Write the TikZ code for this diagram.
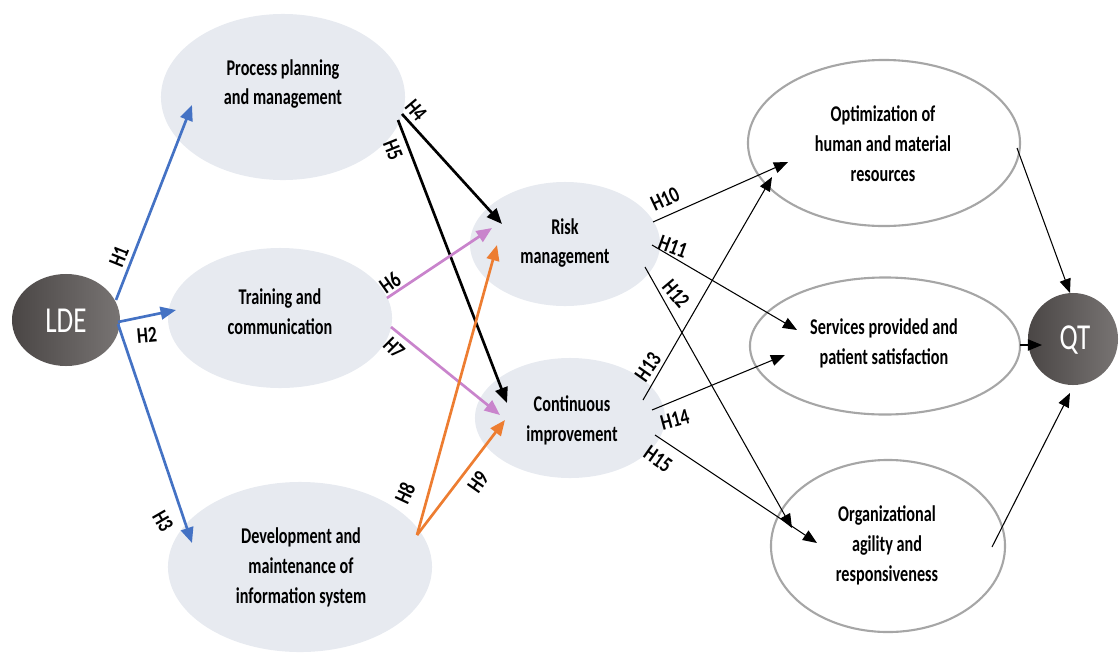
\documentclass[tikz,border=0pt]{standalone}
\usepackage{fontspec}
\setmainfont{Carlito}
\usetikzlibrary{arrows.meta,shapes.geometric,calc}
\definecolor{efill}{HTML}{E7EAF0}
\definecolor{eline}{HTML}{A6A6A6}
\definecolor{cblue}{HTML}{4472C4}
\definecolor{cpink}{HTML}{C984CC}
\definecolor{corange}{HTML}{ED7D31}
\definecolor{darka}{HTML}{4A4645}
\definecolor{darkb}{HTML}{787473}
\newcommand{\hsq}[1]{\scalebox{0.78}[1]{#1}}
\begin{document}
\begin{tikzpicture}[x=0.025cm,y=-0.025cm,
  inner/.style={ellipse, fill=efill, draw=none, inner sep=0pt},
  outer/.style={ellipse, draw=eline, line width=1.5pt, fill=white, inner sep=0pt},
  darkc/.style={ellipse, left color=darka, right color=darkb, inner sep=0pt},
  txt/.style={font=\fontsize{16}{21.3}\selectfont\bfseries, align=center, xscale=0.72, inner sep=0pt},
  bigtxt/.style={font=\fontsize{26}{26}\selectfont, text=white, xscale=0.74, inner sep=0pt},
  hl/.style={font=\fontsize{16}{16}\selectfont\bfseries, inner sep=0pt},
  thickarr/.style={line width=1.9pt, -{Triangle[length=11pt,width=9pt]}},
  thinarr/.style={line width=0.75pt, -{Triangle[length=10pt,width=8pt]}}]
\useasboundingbox (0,0) rectangle (1120,653);
% ellipses
\node[darkc, minimum width=2.7cm, minimum height=2.3cm] (lde) at (66,320) {};
\node[inner, minimum width=6.1cm, minimum height=4.15cm] (pp) at (283,97) {};
\node[inner, minimum width=5.6cm, minimum height=3.5cm] (tc) at (280,318) {};
\node[inner, minimum width=6.6cm, minimum height=4.25cm] (dm) at (300,567) {};
\node[inner, minimum width=4.75cm, minimum height=3.1cm] (rm) at (565,244) {};
\node[inner, minimum width=4.75cm, minimum height=3.0cm] (ci) at (570,418) {};
\node[outer, minimum width=6.8cm, minimum height=4.15cm] (op) at (884,143) {};
\node[outer, minimum width=6.75cm, minimum height=3.425cm] (sp) at (885,346) {};
\node[outer, minimum width=5.85cm, minimum height=4.3cm] (oa) at (888,546) {};
\node[darkc, minimum width=2.25cm, minimum height=2.3cm] (qt) at (1073,339) {};
% texts
\node[bigtxt] (ldet) at (66,321) {LDE};
\node[bigtxt] (qtt) at (1075,340) {QT};
\node[txt] (ppt) at (283,84) {Process planning\\and management};
\node[txt] (tct) at (280,312) {Training and\\communication};
\node[txt] (dmt) at (301,567) {Development and\\maintenance of\\information system};
\node[txt] (rmt) at (565,243) {Risk\\management};
\node[txt] (cit) at (572,420) {Continuous\\improvement};
\node[txt] (opt) at (883,144) {Optimization of\\human and material\\resources};
\node[txt] (spt) at (884,343) {Services provided and\\patient satisfaction};
\node[txt] (oat) at (887,545) {Organizational\\agility and\\responsiveness};
% endpoints
\coordinate (h1s) at ($(lde.center)+(50,-20)$);
\coordinate (h1e) at ($(pp.center)+(-91,8)$);
\coordinate (h2s) at ($(lde.center)+(52,2)$);
\coordinate (h2e) at ($(tc.center)+(-104,-8)$);
\coordinate (h3s) at ($(lde.center)+(52,4)$);
\coordinate (h3e) at ($(dm.center)+(-108,-24)$);
\coordinate (h4s) at ($(pp.center)+(119,17)$);
\coordinate (h4e) at ($(rm.center)+(-63,-20)$);
\coordinate (h5s) at ($(pp.center)+(115,23)$);
\coordinate (h5e) at ($(ci.center)+(-63,-15)$);
\coordinate (h6s) at ($(tc.center)+(107,-20)$);
\coordinate (h6e) at ($(rm.center)+(-73,-16)$);
\coordinate (h7s) at ($(tc.center)+(111,9)$);
\coordinate (h7e) at ($(ci.center)+(-70,-3)$);
\coordinate (h8s) at ($(dm.center)+(117,-32)$);
\coordinate (h8e) at ($(rm.center)+(-68,1)$);
\coordinate (h9e) at ($(ci.center)+(-65,2)$);
\coordinate (h10s) at ($(rm.center)+(88,-22)$);
\coordinate (h10e) at ($(op.center)+(-96,19)$);
\coordinate (h11s) at ($(rm.center)+(87,1)$);
\coordinate (h11e) at ($(sp.center)+(-88,-16)$);
\coordinate (h12s) at ($(rm.center)+(80,23)$);
\coordinate (h12e) at ($(oa.center)+(-96,-18)$);
\coordinate (h13s) at ($(ci.center)+(73,-18)$);
\coordinate (h13e) at ($(op.center)+(-112,34)$);
\coordinate (h14s) at ($(ci.center)+(82,-8)$);
\coordinate (h14e) at ($(sp.center)+(-100,9)$);
\coordinate (h15s) at ($(ci.center)+(85,17)$);
\coordinate (h15e) at ($(oa.center)+(-71,-3)$);
\coordinate (q1s) at ($(op.center)+(133,5)$);
\coordinate (q1e) at ($(qt.center)+(-3,-46)$);
\coordinate (q2s) at ($(sp.center)+(135,-1)$);
\coordinate (q2e) at ($(qt.center)+(-31,6)$);
\coordinate (q3s) at ($(oa.center)+(104,1)$);
\coordinate (q3e) at ($(qt.center)+(-3,54)$);
% connectors
\draw[thickarr, cblue] (h1s) -- (h1e);
\draw[thickarr, cblue] (h2s) -- (h2e);
\draw[thickarr, cblue] (h3s) -- (h3e);
\draw[thickarr, black] (h4s) -- (h4e);
\draw[thickarr, black] (h5s) -- (h5e);
\draw[thickarr, cpink] (h6s) -- (h6e);
\draw[thickarr, cpink] (h7s) -- (h7e);
\draw[thickarr, corange] (h8s) -- (h8e);
\draw[thickarr, corange] (h8s) -- (h9e);
\draw[thinarr] (h10s) -- (h10e);
\draw[thinarr] (h11s) -- (h11e);
\draw[thinarr] (h12s) -- (h12e);
\draw[thinarr] (h13s) -- (h13e);
\draw[thinarr] (h14s) -- (h14e);
\draw[thinarr] (h15s) -- (h15e);
\draw[thinarr] (q1s) -- (q1e);
\draw[thinarr] (q2s) -- (q2e);
\draw[thinarr] (q3s) -- (q3e);
% labels
\node[hl, rotate=68] (l1) at (119,257) {\hsq{H1}};
\node[hl, rotate=5] (l2) at (147,335) {\hsq{H2}};
\node[hl, rotate=-60] (l3) at (163,521) {\hsq{H3}};
\node[hl, rotate=-50] (l4) at (416,110) {\hsq{H4}};
\node[hl, rotate=-68] (l5) at (393,150) {\hsq{H5}};
\node[hl, rotate=35] (l6) at (390,283) {\hsq{H6}};
\node[hl, rotate=-45] (l7) at (394,348) {\hsq{H7}};
\node[hl, rotate=65] (l8) at (405,493) {\hsq{H8}};
\node[hl, rotate=55] (l9) at (478,482) {\hsq{H9}};
\node[hl, rotate=25] (l10) at (665,199) {\hsq{H10}};
\node[hl, rotate=-20] (l11) at (673,247) {\hsq{H11}};
\node[hl, rotate=-50] (l12) at (676,294) {\hsq{H12}};
\node[hl, rotate=55] (l13) at (648,367) {\hsq{H13}};
\node[hl, rotate=15] (l14) at (675,420) {\hsq{H14}};
\node[hl, rotate=-35] (l15) at (658,459) {\hsq{H15}};
\end{tikzpicture}
\end{document}
